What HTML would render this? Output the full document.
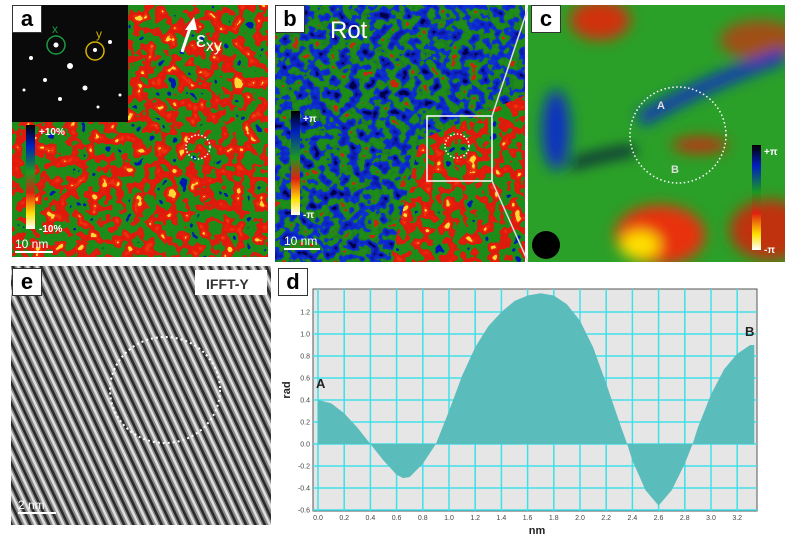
<!DOCTYPE html>
<html><head><meta charset="utf-8"><style>
body{margin:0;width:806px;height:540px;background:#fff;position:relative;overflow:hidden;font-family:"Liberation Sans",sans-serif}
.lbl{position:absolute;background:#fff;border:1px solid #333;font-weight:bold;font-size:22px;text-align:center;line-height:26px;width:28px;height:26px}
svg{position:absolute}
</style></head><body>
<svg width="806" height="540" style="left:0;top:0">
<defs>
<filter id="rg" x="0" y="0" width="100%" height="100%" color-interpolation-filters="sRGB">
<feTurbulence type="fractalNoise" baseFrequency="0.09" numOctaves="2" seed="3"/>
<feColorMatrix type="matrix" values="1 0 0 0 0 1 0 0 0 0 1 0 0 0 0 0 0 0 0 1"/>
<feComponentTransfer><feFuncR type="linear" slope="1.6" intercept="-0.3"/><feFuncG type="linear" slope="1.6" intercept="-0.3"/><feFuncB type="linear" slope="1.6" intercept="-0.3"/></feComponentTransfer>
<feComponentTransfer><feFuncR type="discrete" tableValues="0 0.1 0.12 0.12 0.12 0.85 0.88 0.9 0.92 1"/><feFuncG type="discrete" tableValues="0.1 0.55 0.55 0.55 0.55 0.12 0.1 0.12 0.2 0.85"/><feFuncB type="discrete" tableValues="0.7 0.1 0.1 0.1 0.1 0.05 0.05 0.05 0.05 0.2"/><feFuncA type="linear" slope="0" intercept="1"/></feComponentTransfer>
</filter>
<filter id="bg" x="0" y="0" width="100%" height="100%" color-interpolation-filters="sRGB">
<feTurbulence type="fractalNoise" baseFrequency="0.1" numOctaves="2" seed="7"/>
<feColorMatrix type="matrix" values="1 0 0 0 0 1 0 0 0 0 1 0 0 0 0 0 0 0 0 1"/>
<feComponentTransfer><feFuncR type="linear" slope="1.6" intercept="-0.3"/><feFuncG type="linear" slope="1.6" intercept="-0.3"/><feFuncB type="linear" slope="1.6" intercept="-0.3"/></feComponentTransfer>
<feComponentTransfer><feFuncR type="discrete" tableValues="0 0.05 0.05 0.05 0.12 0.12 0.12 0.8"/><feFuncG type="discrete" tableValues="0 0.1 0.15 0.2 0.5 0.55 0.55 0.15"/><feFuncB type="discrete" tableValues="0.3 0.65 0.8 0.8 0.12 0.1 0.1 0.05"/><feFuncA type="linear" slope="0" intercept="1"/></feComponentTransfer>
</filter>
<filter id="bl"><feGaussianBlur stdDeviation="7"/></filter>
<linearGradient id="cb1" x1="0" y1="0" x2="0" y2="1"><stop offset="0" stop-color="#000"/><stop offset=".2" stop-color="#0020c0"/><stop offset=".45" stop-color="#1a9a20"/><stop offset=".65" stop-color="#e02010"/><stop offset=".85" stop-color="#ffe000"/><stop offset="1" stop-color="#fff"/></linearGradient>
<pattern id="stripes" width="8.5" height="15" patternUnits="userSpaceOnUse" patternTransform="rotate(-25)"><rect width="8.5" height="15" fill="#8a8a8a"/><rect x="0" width="2.6" height="15" fill="#2a2a2a"/><rect x="4.6" width="2.4" height="15" fill="#e0e0e0"/></pattern>
<clipPath id="cc"><rect x="528" y="5" width="257" height="257"/></clipPath>
<clipPath id="bred"><polygon points="420,140 525,95 525,262 390,262"/></clipPath>
</defs>
<!-- panel a -->
<g>
<rect x="12" y="5" width="256" height="252" filter="url(#rg)"/>
<rect x="12" y="5" width="116" height="117" fill="#0a0a0a"/>
<g fill="#fff"><circle cx="70" cy="66" r="3"/><circle cx="56" cy="45" r="2.5"/><circle cx="95" cy="50" r="2"/><circle cx="85" cy="88" r="2.5"/><circle cx="31" cy="58" r="2"/><circle cx="45" cy="80" r="2"/><circle cx="60" cy="99" r="2"/><circle cx="110" cy="42" r="2"/><circle cx="98" cy="107" r="1.5"/><circle cx="24" cy="90" r="1.5"/><circle cx="120" cy="95" r="1.5"/></g>
<circle cx="56" cy="45" r="9" fill="none" stroke="#1a9a40" stroke-width="1.5"/>
<circle cx="95" cy="51" r="9" fill="none" stroke="#d4b000" stroke-width="1.5"/>
<text x="52" y="33" fill="#1a9a40" font-size="12">x</text><text x="96" y="38" fill="#d4b000" font-size="12">y</text>
<rect x="26" y="125" width="9" height="104" fill="url(#cb1)"/>
<text x="39" y="135" fill="#fff" font-size="10" font-weight="bold">+10%</text>
<text x="39" y="232" fill="#fff" font-size="10" font-weight="bold">-10%</text>
<text x="15" y="248" fill="#fff" font-size="12">10 nm</text><rect x="15" y="251" width="38" height="2" fill="#fff"/>
<path d="M182 52 L190 28" stroke="#fff" stroke-width="3"/><path d="M185 30 L197 30 L194 17Z" fill="#fff"/>
<text x="196" y="47" fill="#fff" font-size="22">ε<tspan font-size="16" dy="4">xy</tspan></text>
<circle cx="198" cy="147" r="12" fill="none" stroke="#fff" stroke-width="1.5" stroke-dasharray="1.5 2"/>
</g>
<!-- panel b -->
<g>
<rect x="275" y="5" width="250" height="257" filter="url(#bg)"/>
<rect x="275" y="5" width="250" height="257" filter="url(#rg)" clip-path="url(#bred)"/>
<rect x="291" y="111" width="9" height="104" fill="url(#cb1)"/>
<text x="303" y="122" fill="#fff" font-size="10" font-weight="bold">+π</text>
<text x="303" y="218" fill="#fff" font-size="10" font-weight="bold">-π</text>
<text x="330" y="38" fill="#fff" font-size="24">Rot</text>
<text x="284" y="245" fill="#fff" font-size="12">10 nm</text><rect x="284" y="248" width="36" height="2" fill="#fff"/>
<rect x="427" y="116" width="65" height="65" fill="none" stroke="#fff" stroke-width="1.5"/>
<circle cx="457" cy="146" r="12" fill="none" stroke="#fff" stroke-width="1.5" stroke-dasharray="1.5 2"/>
<path d="M492 116 L528 8 M492 181 L528 262" stroke="#ddd" stroke-width="1.5"/>
</g>
<!-- panel c -->
<g clip-path="url(#cc)">
<rect x="528" y="5" width="257" height="257" fill="#2aa028"/>
<g filter="url(#bl)">
<ellipse cx="600" cy="20" rx="30" ry="20" fill="#d03010"/>
<ellipse cx="760" cy="40" rx="40" ry="20" fill="#a05018"/>
<ellipse cx="660" cy="235" rx="45" ry="30" fill="#e83010"/>
<ellipse cx="640" cy="245" rx="20" ry="14" fill="#ffe000"/>
<ellipse cx="770" cy="230" rx="40" ry="30" fill="#c03010"/>
<ellipse cx="556" cy="130" rx="14" ry="40" fill="#1030c0"/>
<path d="M640 120 Q700 85 785 55" stroke="#1030c0" stroke-width="14" fill="none"/>
<path d="M570 165 Q600 155 635 150" stroke="#0a0a40" stroke-width="8" fill="none"/>
<ellipse cx="700" cy="145" rx="28" ry="8" fill="#c03010"/>
</g>
<circle cx="546" cy="245" r="14" fill="#000"/>
<circle cx="678" cy="135" r="48" fill="none" stroke="#fff" stroke-width="1.5" stroke-dasharray="1.5 2.5"/>
<text x="657" y="109" fill="#ddd" font-size="11" font-weight="bold">A</text>
<text x="671" y="173" fill="#ddd" font-size="11" font-weight="bold">B</text>
<rect x="752" y="145" width="9" height="105" fill="url(#cb1)"/>
<text x="764" y="155" fill="#fff" font-size="10" font-weight="bold">+π</text>
<text x="764" y="253" fill="#fff" font-size="10" font-weight="bold">-π</text>
</g>
<!-- panel e -->
<g>
<rect x="11" y="266" width="260" height="259" fill="url(#stripes)"/>
<ellipse cx="165" cy="390" rx="55" ry="53" fill="none" stroke="#fff" stroke-width="2" stroke-dasharray="2 3"/>
<rect x="195" y="270" width="72" height="25" fill="#fff"/>
<text x="206" y="289" font-size="14" font-weight="bold" fill="#333">IFFT-Y</text>
<text x="18" y="509" fill="#fff" font-size="12">2 nm</text><rect x="18" y="512" width="38" height="2" fill="#fff"/>
</g>
<!-- panel d chart -->
<g id="chart"></g>
</svg>
<div class="lbl" style="left:12px;top:5px">a</div>
<div class="lbl" style="left:275px;top:5px">b</div>
<div class="lbl" style="left:531px;top:5px">c</div>
<div class="lbl" style="left:12px;top:268px">e</div>
<div class="lbl" style="left:278px;top:268px">d</div>
<script>
const xs=[0,0.1,0.2,0.3,0.4,0.5,0.6,0.65,0.7,0.8,0.9,1.0,1.1,1.2,1.3,1.4,1.5,1.6,1.7,1.8,1.9,2.0,2.1,2.2,2.3,2.36,2.4,2.5,2.6,2.7,2.8,2.86,2.9,3.0,3.1,3.2,3.3,3.33];
const ys=[0.40,0.37,0.28,0.15,0.0,-0.15,-0.28,-0.31,-0.30,-0.18,0.0,0.30,0.62,0.88,1.07,1.20,1.30,1.35,1.37,1.35,1.27,1.12,0.88,0.55,0.20,0.0,-0.15,-0.42,-0.56,-0.42,-0.18,0.0,0.15,0.45,0.68,0.82,0.90,0.90];
const xTicks=[0,0.2,0.4,0.6,0.8,1.0,1.2,1.4,1.6,1.8,2.0,2.2,2.4,2.6,2.8,3.0,3.2];
const yTicks=[-0.6,-0.4,-0.2,0,0.2,0.4,0.6,0.8,1.0,1.2];
const X=v=>318+v*131, Y=v=>444-v*110;
const NS='http://www.w3.org/2000/svg', g=document.getElementById('chart');
function mk(t,a){const e=document.createElementNS(NS,t);for(const k in a)e.setAttribute(k,a[k]);g.appendChild(e);return e;}
let bg=mk('rect',{x:313,y:289,width:444,height:222,fill:'#e6e6e6',stroke:'#555'});


xTicks.forEach(t=>{
 const l=mk('line',{x1:X(t),x2:X(t),y1:289,y2:511,stroke:'#40e0e8','stroke-width':1.5});
 
 
 const tx=mk('text',{x:X(t),y:520,'font-size':7,'text-anchor':'middle',fill:'#444'});tx.textContent=t.toFixed(1);
 
 
});
yTicks.forEach(t=>{
 const l=mk('line',{x1:313,x2:757,y1:Y(t),y2:Y(t),stroke:'#40e0e8','stroke-width':1.5});
 
 
 const tx=mk('text',{x:310,y:Y(t)+2.5,'font-size':7,'text-anchor':'end',fill:'#444'});tx.textContent=t.toFixed(1);
 
 
});
let pts=X(xs[0])+','+Y(0)+' '+xs.map((x,i)=>X(x)+','+Y(ys[i])).join(' ')+' '+X(xs[xs.length-1])+','+Y(0);
const area=mk('polygon',{points:pts,fill:'#5bbcbc'});


const A=mk('text',{x:316,y:388,'font-size':13,'font-weight':'bold',fill:'#222'});A.textContent='A';


const B=mk('text',{x:745,y:336,'font-size':13,'font-weight':'bold',fill:'#222'});B.textContent='B';


const xl=mk('text',{x:537,y:534,'font-size':11,'font-weight':'bold','text-anchor':'middle',fill:'#222'});xl.textContent='nm';


const yl=mk('text',{x:290,y:390,'font-size':11,'font-weight':'bold','text-anchor':'middle',fill:'#222',transform:'rotate(-90 290 390)'});yl.textContent='rad';


</script>
</body></html>
